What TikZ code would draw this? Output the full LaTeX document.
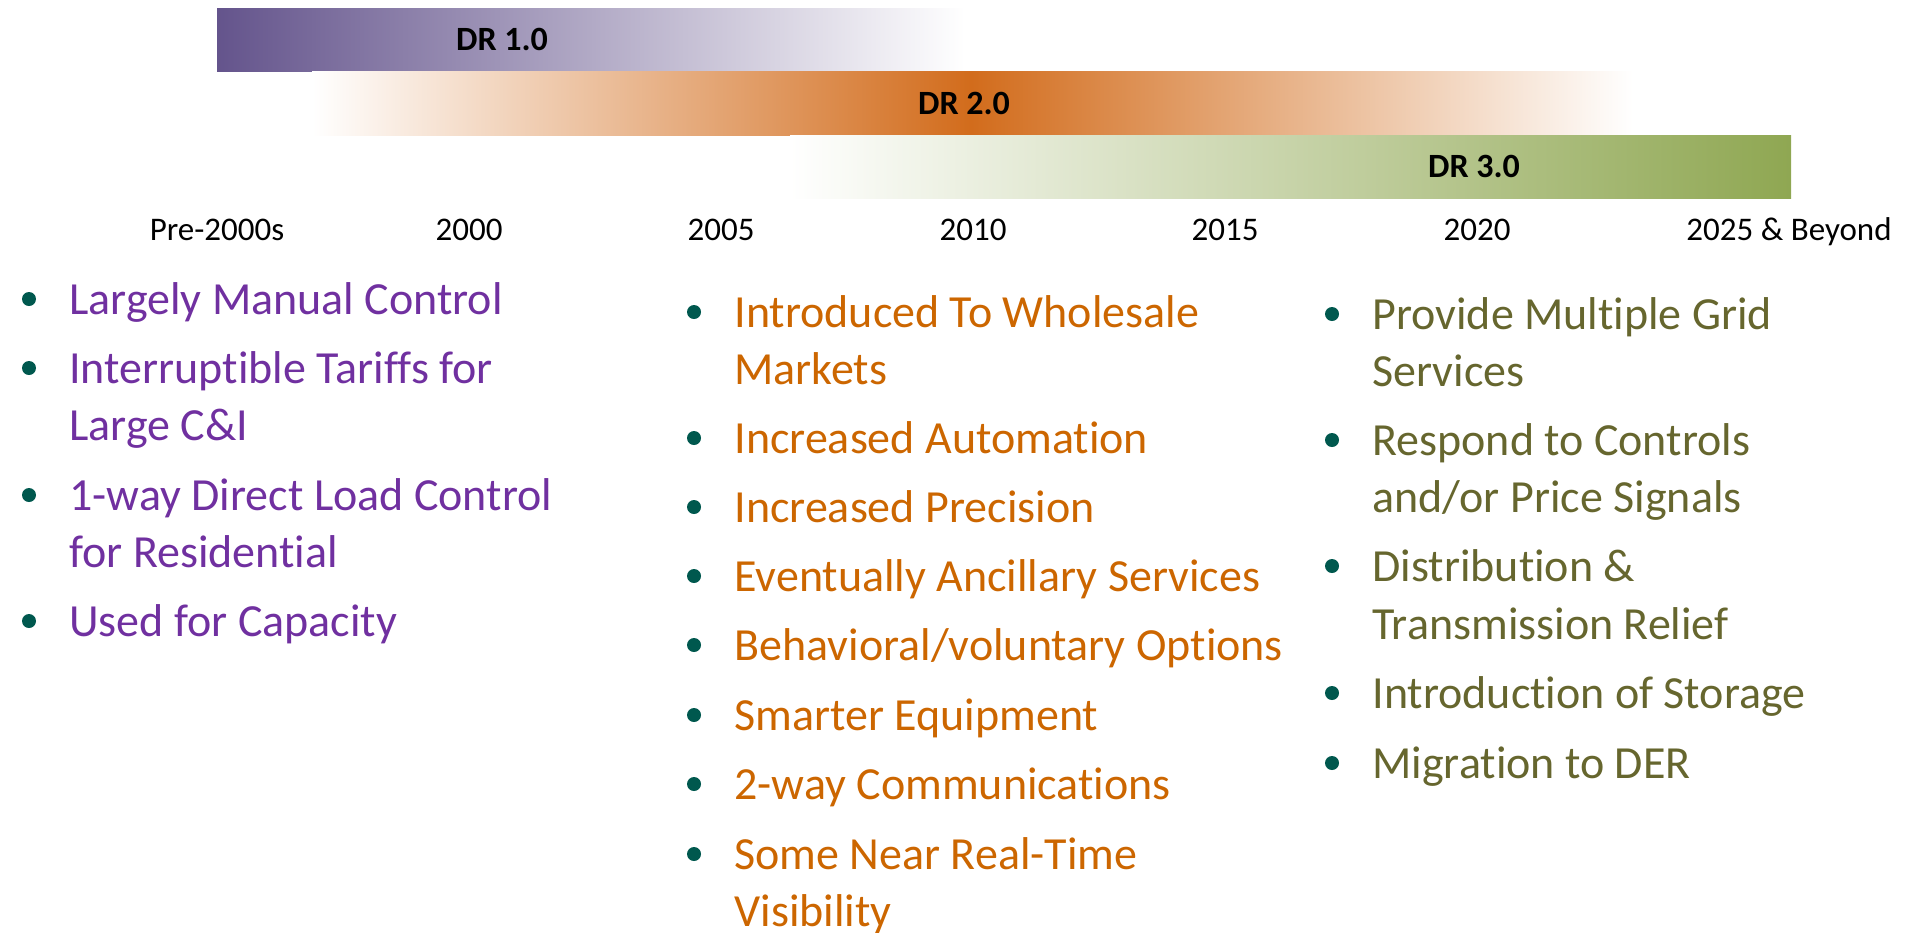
\documentclass[tikz,border=0pt]{standalone}
\usepackage{fontspec}
\setmainfont{Carlito}[RawFeature={-liga;-clig;-calt;-ccmp;-rlig}]
\definecolor{drpurple}{RGB}{100,84,140}
\definecolor{drorange}{RGB}{210,108,28}
\definecolor{drgreen}{RGB}{143,167,82}
\definecolor{txtpurple}{RGB}{112,48,160}
\definecolor{txtorange}{RGB}{204,102,0}
\definecolor{txtolive}{RGB}{102,102,46}
\definecolor{dotteal}{RGB}{0,88,78}
\begin{document}
\begin{tikzpicture}
[x=0.5pt,y=-0.5pt,
 bartext/.style={font=\fontsize{17}{20}\selectfont\bfseries,inner sep=0pt},
 yeartext/.style={font=\fontsize{16.5}{20}\selectfont,anchor=base,inner sep=0pt},
 itemtext/.style={font=\fontsize{23}{28}\selectfont,anchor=base west,inner sep=0pt},
 bulletdot/.style={circle,fill=dotteal,inner sep=0pt,minimum size=7pt}]
\useasboundingbox (0,0) rectangle (1909,932);
%% the three bars
\shade[left color=drpurple,right color=white] (217,8) rectangle (965,71);
\shade[left color=white,right color=drorange] (312,71) rectangle (971,135);
\shade[left color=drorange,right color=white] (971,71) rectangle (1633,135);
\shade[left color=white,right color=drgreen] (790,135) rectangle (1791,198);
\node[bartext] (dr1) at (502,39) {DR 1.0};
\node[bartext] (dr2) at (964,103) {DR 2.0};
\node[bartext] (dr3) at (1474,166) {DR 3.0};
%% time axis
\foreach \nm/\x/\yr in {y1/217/Pre-2000s, y2/469/2000, y3/721/2005, y4/973/2010,
  y5/1225/2015, y6/1477/2020, y7/1789/2025 \& Beyond}
{
  \node[yeartext] (\nm) at (\x,240) {\yr};
}
%% the three lists
\foreach \nm/\y/\txt in {a1/314/Largely Manual Control, a2/383/Interruptible Tariffs for,
  a3/440/Large C\&I, a4/510/1-way Direct Load Control, a5/567/for Residential,
  a6/636/Used for Capacity}
{
  \node[itemtext,text=txtpurple] (\nm) at (69,\y) {\txt};
}
\foreach \nm/\y/\txt in {b1/327/Introduced To Wholesale, b2/384/Markets,
  b3/453/Increased Automation, b4/522/Increased Precision,
  b5/591/Eventually Ancillary Services, b6/660/{Behavioral/voluntary Options},
  b7/730/Smarter Equipment, b8/799/2-way Communications,
  b9/869/Some Near Real-Time, b10/926/Visibility}
{
  \node[itemtext,text=txtorange] (\nm) at (734,\y) {\txt};
}
\foreach \nm/\y/\txt in {c1/329/Provide Multiple Grid, c2/386/Services,
  c3/455/Respond to Controls, c4/512/{and/or Price Signals},
  c5/581/Distribution \&, c6/639/Transmission Relief,
  c7/708/Introduction of Storage, c8/778/Migration to DER}
{
  \node[itemtext,text=txtolive] (\nm) at (1372,\y) {\txt};
}
%% bullets
\foreach \nm in {a1,a2,a4,a6,b1,b3,b4,b5,b6,b7,b8,b9,c1,c3,c5,c7,c8}
{
  \node[bulletdot] (dot-\nm) at ([xshift=-20pt,yshift=7.5pt]\nm.base west) {};
}
\end{tikzpicture}
\end{document}
